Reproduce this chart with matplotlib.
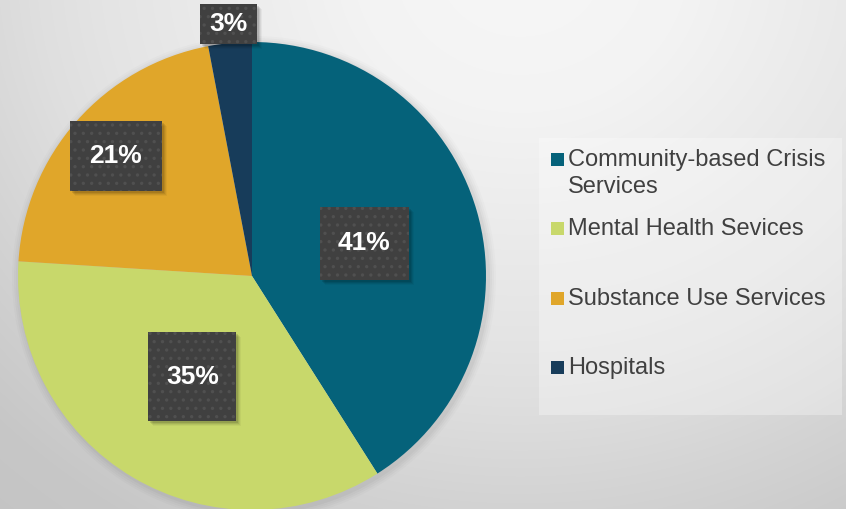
import numpy as np
import matplotlib
matplotlib.use("Agg")
import matplotlib.pyplot as plt
from matplotlib.patches import Rectangle, Circle

plt.rcParams['font.family'] = ['Liberation Sans', 'DejaVu Sans']
plt.rcParams['hatch.linewidth'] = 1.2

# ---- data ----
categories = ["Community-based Crisis\nServices", "Mental Health Sevices",
              "Substance Use Services", "Hospitals"]
values = [41, 35, 21, 3]
pct_labels = ["41%", "35%", "21%", "3%"]
colors = ["#05627A", "#C8D86B", "#E0A62A", "#173C5A"]

W, H = 846, 509
fig = plt.figure(figsize=(W / 100, H / 100), dpi=100)

# ---- background radial gradient ----
bg = fig.add_axes([0, 0, 1, 1])
yy, xx = np.mgrid[0:H, 0:W]
d = np.hypot((xx - 520) * 0.95, (yy + 40) * 1.05)
v = np.interp(d, [0, 160, 400, 460, 560, 690, 900], [247, 243, 228, 223, 212, 199, 192])
img = np.dstack([v, v, v]) / 255.0
bg.imshow(img, extent=[0, W, H, 0], aspect='auto', zorder=-10)
bg.set_xlim(0, W)
bg.set_ylim(H, 0)
bg.axis('off')

# ---- pie ----
R = 234.0
cx, cy = 252.0, 276.0
ax = fig.add_axes([(cx - R) / W, (H - cy - R) / H, 2 * R / W, 2 * R / H])
ax.set_facecolor('none')

# soft shadow of pie
for k, a in enumerate([0.03, 0.025, 0.02, 0.015]):
    ax.add_patch(Circle((2 / R, -2 / R), 1 + (k + 1) * 2.0 / R, color='black',
                        alpha=a, lw=0, zorder=0, clip_on=False))

wedges, _ = ax.pie(values, colors=colors, startangle=90, counterclock=False,
                   radius=1, wedgeprops=dict(linewidth=0))
for w in wedges:
    w.set_zorder(2)
ax.set_xlim(-1, 1)
ax.set_ylim(-1, 1)
ax.set_aspect('auto')
ax.axis('off')

label_r = [0.5, 0.5, 0.775, 1.08]
box_px = [(89, 73), (88, 89), (92, 70), (57, 40)]
for w, lab, r, (bw, bh) in zip(wedges, pct_labels, label_r, box_px):
    th = np.deg2rad((w.theta1 + w.theta2) / 2)
    x, y = r * np.cos(th), r * np.sin(th)
    bwd, bhd = bw / R, bh / R
    # shadow
    for k, a in enumerate([0.10, 0.08, 0.06, 0.04]):
        off = (2 + k) / R
        ax.add_patch(Rectangle((x - bwd / 2 + off, y - bhd / 2 - off), bwd, bhd,
                               facecolor='black', alpha=a, lw=0, zorder=5, clip_on=False))
    ax.add_patch(Rectangle((x - bwd / 2, y - bhd / 2), bwd, bhd, facecolor='#404040',
                           lw=0, zorder=6, clip_on=False))
    ax.add_patch(Rectangle((x - bwd / 2, y - bhd / 2), bwd, bhd, facecolor='none',
                           edgecolor='#505050', hatch='..', lw=0, zorder=7, clip_on=False))
    ax.text(x, y, lab, ha='center', va='center', fontsize=19, fontweight='bold',
            color='white', zorder=8, clip_on=False)

# ---- legend (manual) ----
def fx(px):
    return px / W

def fy(py):
    return 1 - py / H

fig.patches.append(Rectangle((fx(539), fy(415)), fx(842) - fx(539), fy(138) - fy(415),
                             transform=fig.transFigure, facecolor='white', alpha=0.3,
                             lw=0, zorder=1))
pitch = 69.3
for i, (cat, col) in enumerate(zip(categories, colors)):
    top = 153 + i * pitch
    fig.patches.append(Rectangle((fx(551), fy(top + 13)), 13 / W, 13 / H,
                                 transform=fig.transFigure, facecolor=col, lw=0, zorder=2))
    fig.text(fx(568), fy(top - 4), cat, ha='left', va='top', fontsize=17,
             color='#404040', linespacing=1.28, zorder=3)

fig.savefig("out.png", dpi=100)
